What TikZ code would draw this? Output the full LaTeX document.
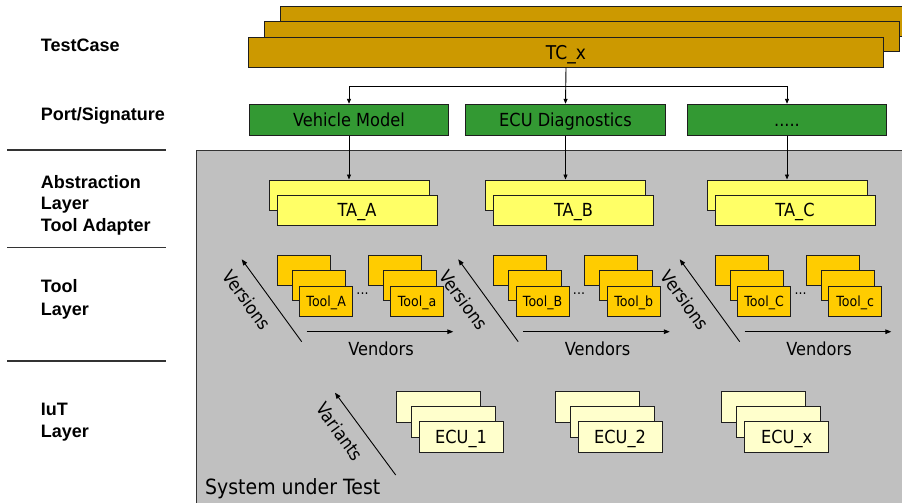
\documentclass[tikz,border=0pt]{standalone}
\usepackage{fontspec}
\setmainfont{DejaVu Sans}[FakeStretch=0.9]
\newfontfamily\lblfont{Liberation Sans}
\usetikzlibrary{arrows.meta}

\definecolor{tccol}{HTML}{CC9900}
\definecolor{portcol}{HTML}{339933}
\definecolor{tacol}{HTML}{FFFF66}
\definecolor{toolcol}{HTML}{FFCC00}
\definecolor{ecucol}{HTML}{FFFFCC}
\definecolor{sutcol}{HTML}{C0C0C0}
\definecolor{edge}{HTML}{1E1E1E}
\definecolor{rulecol}{HTML}{333333}

\tikzset{
  fs/.style={font=\fontsize{#1}{#1}\selectfont},
  % text height = cap height of the box font, so the capitals sit centred
  box/.style={draw=edge, line width=1pt, inner sep=0pt, text depth=0pt},
  tcbox/.style={box, fill=tccol, minimum width=635, minimum height=30, fs=19, text height=13.9pt},
  portbox/.style={box, fill=portcol, minimum width=199.5, minimum height=30.7, fs=18, text height=13.1pt},
  tabox/.style={box, fill=tacol, minimum width=160, minimum height=30, fs=18, text height=13.1pt},
  toolbox/.style={box, fill=toolcol, minimum width=53.3, minimum height=30, fs=14, text height=10.2pt},
  ecubox/.style={box, fill=ecucol, minimum width=84, minimum height=30.3, fs=18, text height=13.1pt},
  lbl/.style={font=\lblfont\bfseries\fontsize{18}{22}\selectfont, anchor=base west, inner sep=0pt},
  divider/.style={draw=rulecol, line width=1.2pt},
  conn/.style={draw=black, line width=0.9pt, -{Triangle[length=6pt,width=4.6pt]}},
  connsmall/.style={draw=black, line width=0.9pt, -{Triangle[length=5pt,width=4pt]}},
  wire/.style={draw=black, line width=0.9pt},
  axislbl/.style={fs=18, inner sep=0pt},
}

\begin{document}
\begin{tikzpicture}[x=1pt,y=-1pt]
\useasboundingbox (0,0) rectangle (902,503);
\clip (0,0) rectangle (902,503);

% system under test area
\node[draw=rulecol, line width=1.3pt, fill=sutcol, anchor=north west,
      minimum width=730, minimum height=380, inner sep=0pt] (sut) at (195.5,150) {};
\node[fs=21, anchor=base west, inner sep=0pt] (sutlbl) at (205,494) {System under Test};

% layer captions and separators
\node[lbl] (lTC)   at (40.7,52)    {TestCase};
\node[lbl] (lPort) at (40.7,120.7) {Port/Signature};
\node[lbl] (lAbs1) at (40.7,188.3) {Abstraction};
\node[lbl] (lAbs2) at (40.7,209.8) {Layer};
\node[lbl] (lAbs3) at (40.7,231.7) {Tool Adapter};
\node[lbl] (lTool1) at (40.7,292.7) {Tool};
\node[lbl] (lTool2) at (40.7,315)   {Layer};
\node[lbl] (lIuT1) at (40.7,415.7) {IuT};
\node[lbl] (lIuT2) at (40.7,437.3) {Layer};
\coordinate (d1a) at (7,150);   \coordinate (d1b) at (166,150);
\coordinate (d2a) at (7,247.7); \coordinate (d2b) at (166,247.7);
\coordinate (d3a) at (7,361);   \coordinate (d3b) at (166,361);
\draw[divider] (d1a) -- (d1b);
\draw[divider] (d2a) -- (d2b);
\draw[divider] (d3a) -- (d3b);

% test case stack
\node[tcbox, anchor=north west] (tcBack) at (280,6) {};
\node[tcbox, anchor=north west] (tcMid)  at (264,21.3) {};
\node[tcbox, anchor=north west] (tc)     at (248,36.7) {TC\_x};

% ports
\node[portbox] (pA) at (349,119.65)   {Vehicle Model};
\node[portbox] (pB) at (565.5,119.65) {ECU Diagnostics};
\node[portbox] (pC) at (787,119.65)   {.....};

\coordinate (bus) at (0,86);
\draw[wire] (pA.north |- bus) -- (pC.north |- bus);
\draw[connsmall] (tc.south) -- (pB.north);
\draw[connsmall] (pA.north |- bus) -- (pA.north);
\draw[connsmall] (pC.north |- bus) -- (pC.north);

% adapters, tools and axes per port
\foreach \c/\n/\ta/\tl/\tr in {349/A/TA\_A/Tool\_A/Tool\_a,
                              565.5/B/TA\_B/Tool\_B/Tool\_b,
                              787/C/TA\_C/Tool\_C/Tool\_c}{
  \node[tabox] (ta\n back) at (\c,195) {};
  \node[tabox] (ta\n) at (\c+8,210.15) {\ta};
  \draw[connsmall] (p\n.south) -- (ta\n back.north);
  % first vendor
  \node[toolbox] (tl\n1) at (\c-72+26.65,270.7) {};
  \node[toolbox] (tl\n2) at (\c-72+41.65,285) {};
  \node[toolbox] (tl\n3) at (\c-72+49.15,301) {\tl};
  % last vendor
  \node[toolbox] (tr\n1) at (\c+19+26.65,270.7) {};
  \node[toolbox] (tr\n2) at (\c+19+41.65,285) {};
  \node[toolbox] (tr\n3) at (\c+19+49.15,301) {\tr};
  \node[fs=14, inner sep=0pt, anchor=base] (dots\n) at (\c+13.5,294.5) {...};
  % versions axis
  \coordinate (vsT\n) at (\c-47.3,341.7);
  \coordinate (vsH\n) at (\c-107.3,259.3);
  \draw[conn] (vsT\n) -- (vsH\n);
  \node[axislbl, rotate=-54] (vsL\n) at (\c-102,300) {Versions};
  % vendors axis
  \coordinate (vdT\n) at (\c-42.3,331.7);
  \coordinate (vdH\n) at (\c+104.3,331.7);
  \draw[conn] (vdT\n) -- (vdH\n);
  \node[axislbl, anchor=base] (vdL\n) at (\c+32,355) {Vendors};
}

% implementations under test
\foreach \e/\n/\t in {396/1/ECU\_1, 555/2/ECU\_2, 721.7/x/ECU\_x}{
  \node[ecubox] (ecu\n a) at (\e+42,406.85) {};
  \node[ecubox] (ecu\n b) at (\e+57,421.85) {};
  \node[ecubox] (ecu\n)   at (\e+65,437) {\t};
}
\coordinate (vaT) at (395.7,475);
\coordinate (vaH) at (335,392.7);
\draw[conn] (vaT) -- (vaH);
\node[axislbl, rotate=-54] (vaL) at (340,431.7) {Variants};
\end{tikzpicture}
\end{document}
